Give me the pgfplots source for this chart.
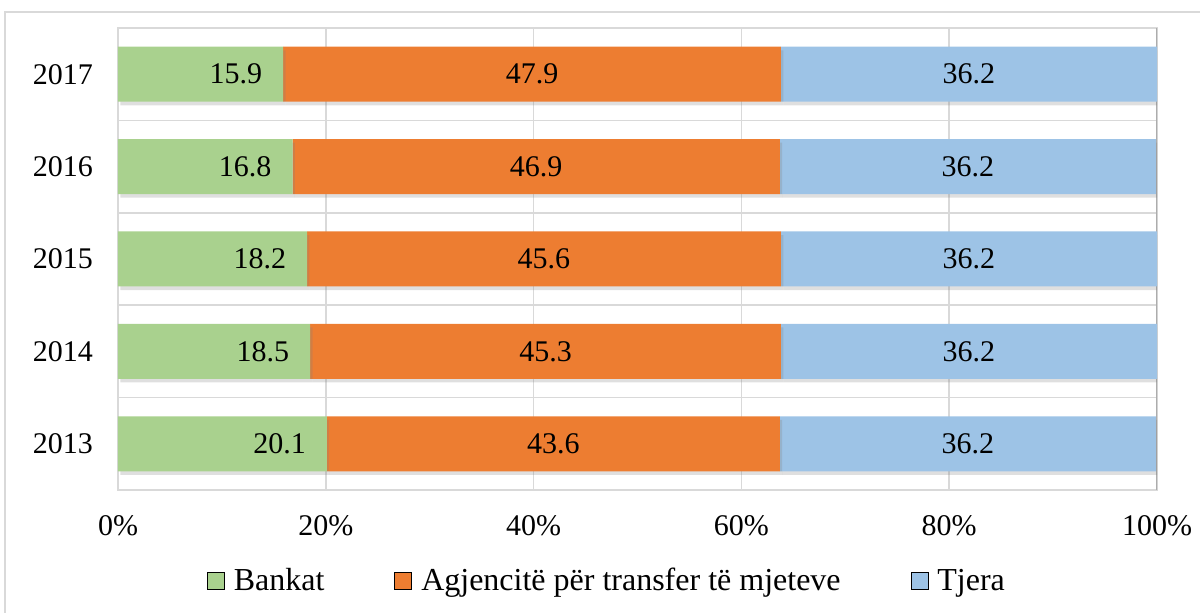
\documentclass[border=0pt]{standalone}
\usepackage{pgfplots}
\pgfplotsset{compat=1.18}
\usepackage{pgfplotstable}
\usepackage{fontspec}
\setmainfont{Liberation Serif}
\usetikzlibrary{shadows}
\definecolor{cgreen}{HTML}{A9D18E}
\definecolor{corange}{HTML}{ED7D31}
\definecolor{cblue}{HTML}{9DC3E6}
\definecolor{gridc}{HTML}{D9D9D9}
\pgfplotstableread{
y bank agj tjera
0 20.1 43.6 36.2
1 18.5 45.3 36.2
2 18.2 45.6 36.2
3 16.8 46.9 36.2
4 15.9 47.9 36.2
}\data
\pgfplotsset{
 common/.style={
  scale only axis, width=519.5pt, height=231pt,
  xmin=0, xmax=100, ymin=-0.5, ymax=4.5,
  at={(0,0)}, anchor=south west,
 }
}
\begin{document}
\begin{tikzpicture}
\useasboundingbox (-59pt,-61.5pt) rectangle (541pt,245pt);
\draw[gridc, line width=0.8pt] (-56.5pt,-61.5pt) -- (-56.5pt,239pt) -- (541pt,239pt);
\begin{axis}[common,
  xbar stacked, bar width=27.5pt,
  axis line style={gridc, line width=0.8pt},
  xtick={0,20,40,60,80,100},
  xticklabels={0\%,20\%,40\%,60\%,80\%,100\%},
  ytick={0,1,2,3,4},
  yticklabels={2013,2014,2015,2016,2017},
  minor ytick={-0.5,0.5,1.5,2.5,3.5,4.5},
  xmajorgrids, yminorgrids,
  grid style={gridc, line width=0.8pt},
  major tick length=0pt, minor tick length=0pt,
  tick label style={font=\fontsize{15}{18}\selectfont},
  xticklabel style={yshift=-9pt},
  yticklabel style={xshift=-9pt},
  legend columns=3,
  legend style={at={(0.4716,-0.197)}, anchor=center, draw=none, fill=none,
     font=\fontsize{16}{19}\selectfont,
     /tikz/every even column/.append style={column sep=33pt}},
  legend image code/.code={\fill[#1] (0pt,-4.25pt) rectangle (8.5pt,4.25pt); \path (11pt,0pt);},
]
\addplot[fill=cgreen, draw=none, forget plot, drop shadow={shadow xshift=1.2pt, shadow yshift=-1.8pt, opacity=0.25}] table[x=bank,y=y]{\data};
\addplot[fill=corange, draw=none, forget plot, drop shadow={shadow xshift=1.2pt, shadow yshift=-1.8pt, opacity=0.25}] table[x=agj,y=y]{\data};
\addplot[fill=cblue, draw=none, forget plot, drop shadow={shadow xshift=1.2pt, shadow yshift=-1.8pt, opacity=0.25}] table[x=tjera,y=y]{\data};
\draw[gray!65, line width=0.8pt] (rel axis cs:1,0) -- (rel axis cs:1,1);
\addlegendimage{fill=cgreen}
\addlegendimage{fill=corange}
\addlegendimage{fill=cblue}
\legend{Bankat, Agjencitë për transfer të mjeteve, Tjera}
\end{axis}
\begin{axis}[common, hide axis,
  nodes near coords, point meta=explicit symbolic,
  every node near coord/.append style={font=\fontsize{15}{18}\selectfont, text=black}]
\addplot[draw=none, mark=none, every node near coord/.append style={anchor=east, xshift=-7pt}] table[x=bank, y=y, meta=bank]{\data};
\addplot[draw=none, mark=none, every node near coord/.append style={anchor=center}] table[x expr=\thisrow{bank}+\thisrow{agj}/2, y=y, meta=agj]{\data};
\addplot[draw=none, mark=none, every node near coord/.append style={anchor=center}] table[x expr=\thisrow{bank}+\thisrow{agj}+\thisrow{tjera}/2, y=y, meta=tjera]{\data};
\end{axis}
\end{tikzpicture}
\end{document}
